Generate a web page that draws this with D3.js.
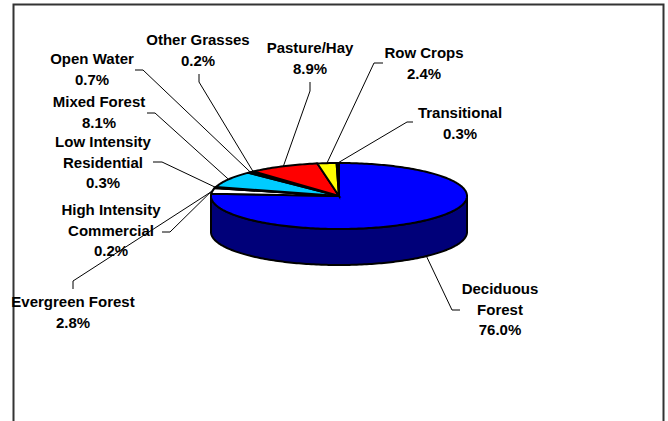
<!DOCTYPE html>
<html>
<head>
<meta charset="utf-8">
<script src="https://cdn.jsdelivr.net/npm/d3@7"></script>
<style>
  body { margin: 0; background: #fff; }
  text { font-family: "Liberation Sans", Arial, sans-serif; font-weight: bold; font-size: 15px; fill: #000; }
</style>
</head>
<body>
<div id="chart"></div>
<script>
// land cover classes, clockwise from 12 o'clock
var categories = ["Deciduous Forest", "Evergreen Forest", "High Intensity Commercial",
  "Low Intensity Residential", "Mixed Forest", "Open Water", "Other Grasses",
  "Pasture/Hay", "Row Crops", "Transitional"];
var labelLines = [["Deciduous", "Forest"], ["Evergreen Forest"], ["High Intensity", "Commercial"],
  ["Low Intensity", "Residential"], ["Mixed Forest"], ["Open Water"], ["Other Grasses"],
  ["Pasture/Hay"], ["Row Crops"], ["Transitional"]];
var values = [76.0, 2.8, 0.2, 0.3, 8.1, 0.7, 0.2, 8.9, 2.4, 0.3];

var sliceColors = ["#0000FF", "#FFFFFF", "#FFFFFF", "#FFFFFF", "#00CCFF",
  "#000000", "#000000", "#FF0000", "#FFFF00", "#000000"];

// hand placed labels (like the original): text centre, elbow start, elbow end
var labelPos = [
  {x: 500, y: 289, p0: [460, 310], p1: [452, 310]},
  {x: 73,  y: 302, p0: [73, 289],  p1: [73, 281]},
  {x: 111, y: 210, p0: [162, 232], p1: [170, 232]},
  {x: 103, y: 142, p0: [153, 162], p1: [162, 162]},
  {x: 99,  y: 102, p0: [147, 113], p1: [155, 113]},
  {x: 92,  y: 59,  p0: [135, 70],  p1: [143, 70]},
  {x: 198, y: 40,  p0: [199, 74],  p1: [199, 82]},
  {x: 310, y: 48,  p0: [310, 82],  p1: [310, 91]},
  {x: 424, y: 53,  p0: [383, 63],  p1: [374, 63]},
  {x: 460, y: 113, p0: [413, 122], p1: [407, 122]}
];

var W = 668, H = 421;
var cx = 339, cy = 196, rx = 128, ry = 33, depth = 36, lineH = 20.5;

var svg = d3.select("#chart")
  .append("svg")
    .attr("width", W)
    .attr("height", H);

// chart area border (open at the bottom of the picture)
svg.append("rect")
  .attr("x", 13.5).attr("y", 4.5)
  .attr("width", 650).attr("height", 440)
  .attr("fill", "none")
  .attr("stroke", "#333")
  .attr("stroke-width", 2);

var color = d3.scaleOrdinal().domain(categories).range(sliceColors);

var arcs = d3.pie().sort(null).value(function(d) { return d; })(values);
arcs.forEach(function(a, i) { a.name = categories[i]; });

function pt(a, dz) {
  return [cx + rx * Math.sin(a), cy - ry * Math.cos(a) + (dz || 0)];
}
function angles(a0, a1) {
  var n = Math.max(2, Math.ceil((a1 - a0) / 0.02));
  return d3.range(n + 1).map(function(k) { return a0 + (a1 - a0) * k / n; });
}
var line = d3.line();

// side wall, only the front half (90deg..270deg) shows
var front0 = Math.PI / 2, front1 = Math.PI * 1.5;
svg.selectAll("path.side")
  .data(arcs.filter(function(d) { return d.endAngle > front0 && d.startAngle < front1; }))
  .enter()
  .append("path")
    .attr("class", "side")
    .attr("d", function(d) {
      var s = Math.max(d.startAngle, front0), e = Math.min(d.endAngle, front1);
      var top = angles(s, e).map(function(a) { return pt(a, 0); });
      var bot = angles(s, e).reverse().map(function(a) { return pt(a, depth); });
      return line(top.concat(bot)) + "Z";
    })
    .attr("fill", function(d) { return d3.color(color(d.name)).darker(2.1); })
    .attr("stroke", "#000")
    .attr("stroke-width", 2)
    .attr("stroke-linejoin", "round");

// top faces
svg.selectAll("path.top")
  .data(arcs)
  .enter()
  .append("path")
    .attr("class", "top")
    .attr("d", function(d) {
      var pts = [[cx, cy]].concat(angles(d.startAngle, d.endAngle).map(function(a) { return pt(a, 0); }));
      return line(pts) + "Z";
    })
    .attr("fill", function(d) { return color(d.name); })
    .attr("stroke", "#000")
    .attr("stroke-width", 2)
    .attr("stroke-linejoin", "miter");

// leader lines
svg.selectAll("path.leader")
  .data(arcs)
  .enter()
  .append("path")
    .attr("class", "leader")
    .attr("d", function(d, i) {
      var m = (d.startAngle + d.endAngle) / 2;
      var end = Math.cos(m) < 0 ? pt(m, depth) : pt(m, 0);
      return line([labelPos[i].p0, labelPos[i].p1, end]);
    })
    .attr("fill", "none")
    .attr("stroke", "#000")
    .attr("stroke-width", 1);

// labels
var fmt = d3.format(".1f");
var labels = svg.selectAll("text.lbl")
  .data(arcs)
  .enter()
  .append("text")
    .attr("class", "lbl")
    .attr("text-anchor", "middle")
    .attr("x", function(d, i) { return labelPos[i].x; })
    .attr("y", function(d, i) { return labelPos[i].y; });

labels.each(function(d, i) {
  var t = d3.select(this);
  var rows = labelLines[i].concat([fmt(d.data) + "%"]);
  rows.forEach(function(r, k) {
    t.append("tspan")
      .attr("x", labelPos[i].x)
      .attr("y", labelPos[i].y + k * lineH)
      .attr("dy", "0.36em")
      .text(r);
  });
});
</script>
</body>
</html>
